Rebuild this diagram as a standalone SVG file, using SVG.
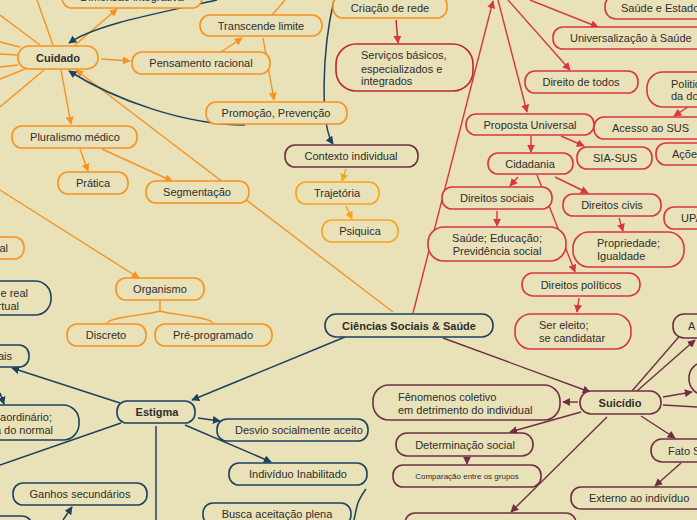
<svg xmlns="http://www.w3.org/2000/svg" width="697" height="520" viewBox="0 0 697 520">
<style>
text{font-family:"Liberation Sans",Arial,sans-serif;font-size:11px;fill:#2e2e2e}
.b{font-weight:bold}
.m{text-anchor:middle}
.e{text-anchor:end}
rect{fill:#e9e1b8;stroke-width:1.6}
.o rect{stroke:#f7931e}
.y rect{stroke:#f9a51a}
.r rect{stroke:#d9363e}
.dr rect{stroke:#c1272d}
.k rect{stroke:#1b4260}
.p rect{stroke:#6e2f42}
.lo{stroke:#f7931e;fill:none;stroke-width:1.4}
.ly{stroke:#f9a51a;fill:none;stroke-width:1.4}
.lr{stroke:#d9363e;fill:none;stroke-width:1.4}
.lk{stroke:#1b4260;fill:none;stroke-width:1.5}
.lp{stroke:#6e2f42;fill:none;stroke-width:1.4}
</style>
<defs>
<marker id="ao" viewBox="0 0 10 10" refX="9" refY="5" markerWidth="8" markerHeight="8" markerUnits="userSpaceOnUse" orient="auto"><path d="M0,0L10,5L0,10z" fill="#f7931e"/></marker>
<marker id="ay" viewBox="0 0 10 10" refX="9" refY="5" markerWidth="8" markerHeight="8" markerUnits="userSpaceOnUse" orient="auto"><path d="M0,0L10,5L0,10z" fill="#f9a51a"/></marker>
<marker id="ar" viewBox="0 0 10 10" refX="9" refY="5" markerWidth="8" markerHeight="8" markerUnits="userSpaceOnUse" orient="auto"><path d="M0,0L10,5L0,10z" fill="#d9363e"/></marker>
<marker id="ak" viewBox="0 0 10 10" refX="9" refY="5" markerWidth="8" markerHeight="8" markerUnits="userSpaceOnUse" orient="auto"><path d="M0,0L10,5L0,10z" fill="#1b4260"/></marker>
<marker id="ap" viewBox="0 0 10 10" refX="9" refY="5" markerWidth="8" markerHeight="8" markerUnits="userSpaceOnUse" orient="auto"><path d="M0,0L10,5L0,10z" fill="#6e2f42"/></marker>
</defs>
<rect x="0" y="0" width="697" height="520" style="fill:#e9e1b8;stroke:none"/>

<g id="connectors">
<!-- orange -->
<path class="lo" d="M0,15L40,45"/>
<path class="lo" d="M0,42L20,47"/>
<path class="lo" d="M0,54L18,55"/>
<path class="lo" d="M0,67L18,65"/>
<path class="lo" d="M0,79L25,69"/>
<path class="lo" d="M0,107L44,70"/>
<path class="lo" d="M37,0L53,45"/>
<path class="lo" d="M75,45L117,9" marker-end="url(#ao)"/>
<path class="lo" d="M101,59L130,61" marker-end="url(#ao)"/>
<path class="lo" d="M61,70L71,124" marker-end="url(#ao)"/>
<path class="lo" d="M221,52L242,38" marker-end="url(#ao)"/>
<path class="lo" d="M263,38L274,100" marker-end="url(#ao)"/>
<path class="lo" d="M272,15L285,0"/>
<path class="lo" d="M393,312L76,70" marker-end="url(#ao)"/>
<path class="lo" d="M0,190L139,278" marker-end="url(#ao)"/>
<path class="lo" d="M80,149L88,171" marker-end="url(#ao)"/>
<path class="lo" d="M102,149L172,181" marker-end="url(#ao)"/>
<path class="lo" d="M160,300L160,311C150,315 112,316 107,323M160,311C170,315 208,316 213,323"/>
<path class="ly" d="M346,169L342,181" marker-end="url(#ay)"/>
<path class="ly" d="M346,206L352,219" marker-end="url(#ay)"/>
<path class="lr" d="M396,20L398,43" marker-end="url(#ar)" style="stroke:#c1272d"/>
<!-- dark blue -->
<path class="lk" d="M217,0C150,15 95,25 69,43" marker-end="url(#ak)"/>
<path class="lk" d="M245,125C185,125 115,100 69,71" marker-end="url(#ak)"/>
<path class="lk" d="M334,0C322,50 320,125 333,144" marker-end="url(#ak)"/>
<path class="lk" d="M345,337L192,400" marker-end="url(#ak)"/>
<path class="lk" d="M120,403L12,368" marker-end="url(#ak)"/>
<path class="lk" d="M0,393L4,404" marker-end="url(#ak)"/>
<path class="lk" d="M121,423L0,465"/>
<path class="lk" d="M198,418L220,421" marker-end="url(#ak)"/>
<path class="lk" d="M185,425L271,462" marker-end="url(#ak)"/>
<path class="lk" d="M156,426L156,520"/>
<path class="lk" d="M63,520L72,507" marker-end="url(#ak)"/>
<path class="lk" d="M366,489C361,496 358,501 357,506L354,520"/>
<!-- red -->
<path class="lr" d="M413,313L493,1" marker-end="url(#ar)"/>
<path class="lr" d="M498,0L527,112" marker-end="url(#ar)"/>
<path class="lr" d="M508,0L570,70" marker-end="url(#ar)"/>
<path class="lr" d="M530,0L598,27" marker-end="url(#ar)"/>
<path class="lr" d="M688,107L674,116" marker-end="url(#ar)"/>
<path class="lr" d="M531,136L531,152" marker-end="url(#ar)"/>
<path class="lr" d="M561,136L584,146" marker-end="url(#ar)"/>
<path class="lr" d="M518,177L510,186" marker-end="url(#ar)"/>
<path class="lr" d="M555,177L588,193" marker-end="url(#ar)"/>
<path class="lr" d="M537,175L575,272" marker-end="url(#ar)"/>
<path class="lr" d="M497,211L497,226" marker-end="url(#ar)"/>
<path class="lr" d="M619,218L623,231" marker-end="url(#ar)"/>
<path class="lr" d="M579,298L577,312" marker-end="url(#ar)"/>
<!-- maroon -->
<path class="lp" d="M443,338L590,392" marker-end="url(#ap)"/>
<path class="lp" d="M578,402L563,402" marker-end="url(#ap)"/>
<path class="lp" d="M581,412L510,432" marker-end="url(#ap)"/>
<path class="lp" d="M467,457L467,464" marker-end="url(#ap)"/>
<path class="lp" d="M607,417L511,512" marker-end="url(#ap)"/>
<path class="lp" d="M641,416L675,438" marker-end="url(#ap)"/>
<path class="lp" d="M681,463L655,486" marker-end="url(#ap)"/>
<path class="lp" d="M663,397L692,392" marker-end="url(#ap)"/>
<path class="lp" d="M663,405L697,407"/>
<path class="lp" d="M632,391L697,316"/>
<path class="lp" d="M637,391L695,340" marker-end="url(#ap)"/>
</g>

<g id="dimensao" class="o"><rect x="62" y="-14" width="140" height="22" rx="10"/><text class="m" x="132" y="1">Dimensão integrativa</text></g>
<g id="cuidado" class="o"><rect x="18" y="46" width="80" height="23" rx="11"/><text class="m b" x="58" y="62">Cuidado</text></g>
<g id="transcende" class="o"><rect x="200" y="15" width="122" height="21" rx="10"/><text class="m" x="261" y="30">Transcende limite</text></g>
<g id="pensamento" class="o"><rect x="132" y="52" width="138" height="22" rx="10"/><text class="m" x="201" y="67">Pensamento racional</text></g>
<g id="promocao" class="o"><rect x="206" y="102" width="141" height="22" rx="10"/><text class="m" x="276" y="117">Promoção, Prevenção</text></g>
<g id="pluralismo" class="o"><rect x="12" y="126" width="125" height="22" rx="10"/><text class="m" x="75" y="141">Pluralismo médico</text></g>
<g id="pratica" class="o"><rect x="58" y="172" width="70" height="22" rx="10"/><text class="m" x="93" y="187">Prática</text></g>
<g id="segmentacao" class="o"><rect x="146" y="181" width="103" height="22" rx="10"/><text class="m" x="197" y="196">Segmentação</text></g>
<g id="al" class="o"><rect x="-60" y="237" width="84" height="22" rx="10"/><text class="e" x="8" y="252">al</text></g>
<g id="organismo" class="o"><rect x="116" y="278" width="88" height="22" rx="10"/><text class="m" x="160" y="293">Organismo</text></g>
<g id="discreto" class="o"><rect x="67" y="324" width="79" height="22" rx="10"/><text class="m" x="106" y="339">Discreto</text></g>
<g id="preprogramado" class="o"><rect x="155" y="324" width="117" height="22" rx="10"/><text class="m" x="213" y="339">Pré-programado</text></g>
<g id="criacao" class="o"><rect x="333" y="-5" width="114" height="23" rx="10"/><text class="m" x="390" y="12">Criação de rede</text></g>
<g id="trajetoria" class="y"><rect x="296" y="182" width="83" height="22" rx="10"/><text class="m" x="337" y="197">Trajetória</text></g>
<g id="psiquica" class="y"><rect x="322" y="220" width="76" height="22" rx="10"/><text class="m" x="360" y="235">Psiquica</text></g>
<g id="servicos" class="dr"><rect x="336" y="44" width="137" height="47" rx="20"/><text x="361" y="59">Serviços básicos,</text><text x="361" y="73">especializados e</text><text x="361" y="85">integrados</text></g>
<g id="contexto" class="p"><rect x="285" y="145" width="133" height="22" rx="10"/><text class="m" x="351" y="160">Contexto individual</text></g>

<g id="ciencias" class="k"><rect x="325" y="314" width="168" height="23" rx="11"/><text class="m b" x="409" y="330">Ciências Sociais &amp; Saúde</text></g>
<g id="estigma" class="k"><rect x="117" y="401" width="78" height="22" rx="10"/><text class="m b" x="157" y="416">Estigma</text></g>
<g id="sociais" class="k"><rect x="-60" y="345" width="89" height="22" rx="10"/><text class="e" x="12" y="360">ais</text></g>
<g id="real" class="k"><rect x="-80" y="281" width="131" height="34" rx="16"/><text class="e" x="28" y="297">e real</text><text class="e" x="19" y="310">rtual</text></g>
<g id="extraordinario" class="k"><rect x="-80" y="405" width="159" height="35" rx="16"/><text class="e" x="52" y="421">Extraordinário;</text><text class="e" x="53" y="434">fora do normal</text></g>
<g id="ganhos" class="k"><rect x="13" y="483" width="134" height="22" rx="10"/><text class="m" x="80" y="498">Ganhos secundários</text></g>
<g id="desvio" class="k"><rect x="217" y="419" width="151" height="22" rx="10"/><text x="235" y="434">Desvio socialmente  aceito</text></g>
<g id="individuo" class="k"><rect x="229" y="463" width="138" height="22" rx="10"/><text class="m" x="298" y="478">Indivíduo Inabilitado</text></g>
<g id="busca" class="k"><rect x="203" y="503" width="148" height="22" rx="10"/><text class="m" x="277" y="518">Busca aceitação plena</text></g>
<g id="bottomleft" class="k"><rect x="-60" y="516" width="92" height="22" rx="10"/></g>

<g id="saudeestado" class="r"><rect x="605" y="-5" width="120" height="24" rx="11"/><text x="621" y="12">Saúde e Estado</text></g>
<g id="universalizacao" class="r"><rect x="553" y="27" width="160" height="22" rx="10"/><text x="570" y="42">Universalização à Saúde</text></g>
<g id="direitotodos" class="r"><rect x="525" y="71" width="113" height="22" rx="10"/><text class="m" x="581" y="86">Direito de todos</text></g>
<g id="politica" class="r"><rect x="647" y="72" width="80" height="35" rx="16"/><text x="671" y="88">Politic</text><text x="671" y="100">da do</text></g>
<g id="proposta" class="r"><rect x="466" y="114" width="128" height="21" rx="10"/><text class="m" x="530" y="129">Proposta Universal</text></g>
<g id="acesso" class="r"><rect x="594" y="117" width="120" height="22" rx="10"/><text x="612" y="132">Acesso ao SUS</text></g>
<g id="cidadania" class="r"><rect x="488" y="153" width="85" height="21" rx="10"/><text class="m" x="530" y="168">Cidadania</text></g>
<g id="siasus" class="r"><rect x="577" y="147" width="75" height="22" rx="10"/><text class="m" x="615" y="162">SIA-SUS</text></g>
<g id="acoes" class="r"><rect x="656" y="143" width="60" height="22" rx="10"/><text x="672" y="158">Ações</text></g>
<g id="dsociais" class="r"><rect x="442" y="187" width="110" height="22" rx="10"/><text class="m" x="497" y="202">Direitos sociais</text></g>
<g id="dcivis" class="r"><rect x="563" y="194" width="98" height="22" rx="10"/><text class="m" x="612" y="209">Direitos civis</text></g>
<g id="upa" class="r"><rect x="664" y="207" width="60" height="22" rx="10"/><text x="681" y="222">UPA</text></g>
<g id="saudeeducacao" class="r"><rect x="428" y="227" width="138" height="34" rx="16"/><text class="m" x="497" y="242">Saúde; Educação;</text><text class="m" x="497" y="255">Previdência social</text></g>
<g id="propriedade" class="r"><rect x="573" y="232" width="111" height="35" rx="16"/><text x="597" y="247">Propriedade;</text><text x="597" y="260">Igualdade</text></g>
<g id="dpoliticos" class="r"><rect x="522" y="273" width="118" height="23" rx="11"/><text class="m" x="581" y="289">Direitos políticos</text></g>
<g id="sereleito" class="r"><rect x="515" y="314" width="116" height="35" rx="16"/><text x="539" y="329">Ser eleito;</text><text x="539" y="342">se candidatar</text></g>

<g id="suicidio" class="p"><rect x="580" y="391" width="81" height="23" rx="11"/><text class="m b" x="620" y="407">Suicídio</text></g>
<g id="fenomenos" class="p"><rect x="373" y="385" width="187" height="35" rx="16"/><text x="398" y="401">Fênomenos coletivo</text><text x="398" y="414">em detrimento do individual</text></g>
<g id="determinacao" class="p"><rect x="396" y="433" width="137" height="23" rx="11"/><text class="m" x="465" y="449">Determinação social</text></g>
<g id="comparacao" class="p"><rect x="393" y="465" width="148" height="22" rx="10"/><text class="m" x="467" y="479" style="font-size:8px">Comparação entre os grupos</text></g>
<g id="fato" class="p"><rect x="651" y="439" width="80" height="23" rx="11"/><text x="668" y="455">Fato S</text></g>
<g id="externo" class="p"><rect x="571" y="487" width="140" height="22" rx="10"/><text x="589" y="502">Externo ao indivíduo</text></g>
<g id="anode" class="p"><rect x="673" y="314" width="60" height="24" rx="11"/><text x="688" y="330">A</text></g>
<g id="roundnode" class="p"><rect x="689" y="362" width="60" height="33" rx="16"/></g>
<g id="bottommaroon" class="p"><rect x="405" y="513" width="171" height="22" rx="10"/></g>
</svg>
